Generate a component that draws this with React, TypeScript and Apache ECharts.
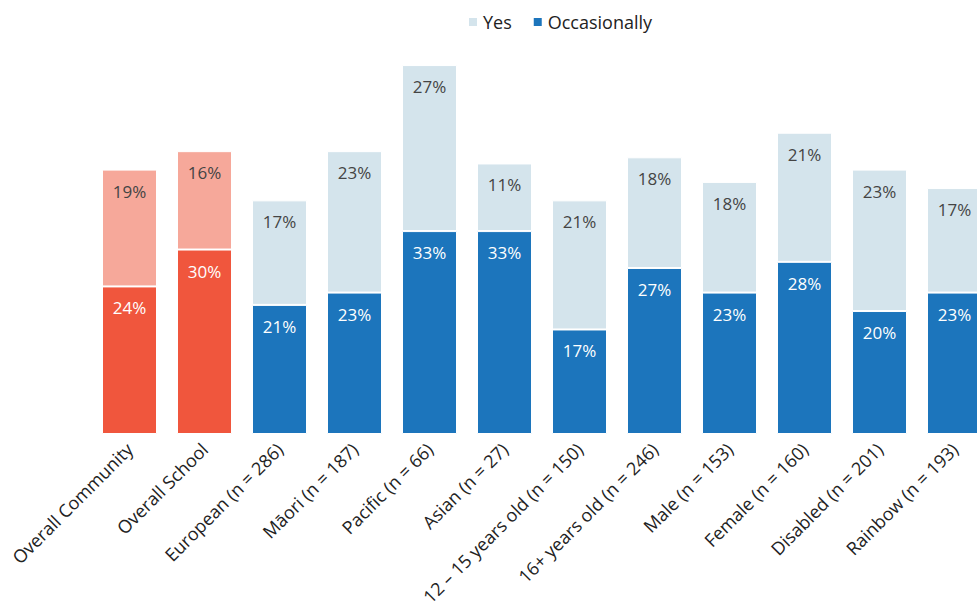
import React, { useEffect, useRef } from "react";
import * as echarts from "echarts";

const categories = [
  "Overall Community",
  "Overall School",
  "European (n = 286)",
  "Māori (n = 187)",
  "Pacific (n = 66)",
  "Asian (n = 27)",
  "12 – 15 years old (n = 150)",
  "16+ years old (n = 246)",
  "Male (n = 153)",
  "Female (n = 160)",
  "Disabled (n = 201)",
  "Rainbow (n = 193)",
];
const occasionally = [24, 30, 21, 23, 33, 33, 17, 27, 23, 28, 20, 23];
const yes = [19, 16, 17, 23, 27, 11, 21, 18, 18, 21, 23, 17];
const highlightCount = 2;

const BLUE = "#1C75BC";
const LIGHT_BLUE = "#D4E4EC";
const RED = "#F0563D";
const LIGHT_RED = "#F6A89A";
const FONT = "Open Sans";

export default function App() {
  const ref = useRef<HTMLDivElement>(null);
  useEffect(() => {
    document.body.style.margin = "0";
    const chart = echarts.init(ref.current!, null, { renderer: "svg" });
    const fmt = (p: any) => `${p.value}%`;
    chart.setOption({
      animation: false,
      textStyle: { fontFamily: FONT },
      legend: {
        data: ["Yes", "Occasionally"],
        top: 8,
        left: 462,
        itemWidth: 10,
        itemHeight: 10,
        itemGap: 20,
        itemTextGap: 6,
        icon: "rect",
        textStyle: { fontSize: 18, color: "#222", fontFamily: FONT },
      },
      grid: {
        left: 92,
        width: 900,
        top: 62,
        height: 372,
        containLabel: false,
        outerBoundsMode: "none",
      },
      xAxis: {
        type: "category",
        data: categories,
        axisLine: { show: false },
        axisTick: { show: false },
        axisLabel: {
          rotate: 45,
          interval: 0,
          margin: 12,
          fontSize: 18,
          color: "#222",
          fontFamily: FONT,
        },
      },
      yAxis: {
        type: "value",
        min: 0,
        max: 60.5,
        show: false,
        splitLine: { show: false },
      },
      series: [
        {
          name: "Occasionally",
          type: "bar",
          stack: "total",
          barWidth: 55,
          itemStyle: { color: BLUE, borderColor: "#fff", borderWidth: 1 },
          label: {
            show: true,
            position: "insideTop",
            distance: 13,
            color: "#fff",
            fontSize: 17,
            fontFamily: FONT,
            formatter: fmt,
          },
          data: occasionally.map((v, i) =>
            i < highlightCount ? { value: v, itemStyle: { color: RED } } : v
          ),
        },
        {
          name: "Yes",
          type: "bar",
          stack: "total",
          barWidth: 55,
          itemStyle: { color: LIGHT_BLUE, borderColor: "#fff", borderWidth: 1 },
          label: {
            show: true,
            position: "insideTop",
            distance: 13,
            color: "#444",
            fontSize: 17,
            fontFamily: FONT,
            formatter: fmt,
          },
          data: yes.map((v, i) =>
            i < highlightCount ? { value: v, itemStyle: { color: LIGHT_RED } } : v
          ),
        },
      ],
    });
    return () => chart.dispose();
  }, []);
  return <div ref={ref} style={{ width: 977, height: 610 }} />;
}
